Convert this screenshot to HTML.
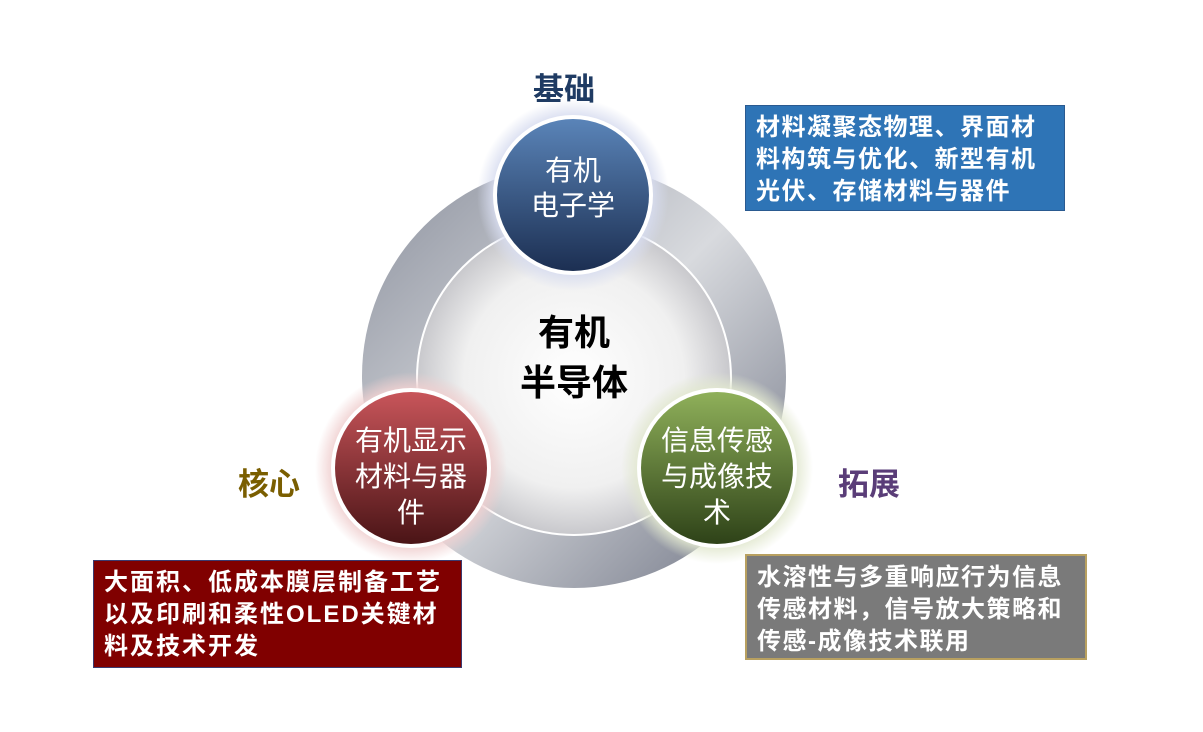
<!DOCTYPE html>
<html><head><meta charset="utf-8"><style>
body{margin:0;background:#fff;width:1203px;height:732px;overflow:hidden;position:relative;font-family:"Liberation Sans","Noto Sans CJK SC",sans-serif}
.box{position:absolute;color:#fff;font-weight:bold;font-size:24px;line-height:32px;padding:6px 0 0 10px;box-sizing:border-box;letter-spacing:1.5px;white-space:nowrap}
.lbl{position:absolute;font-size:31px;font-weight:bold}
</style></head><body>
<svg width="1203" height="732" style="position:absolute;left:0;top:0">
<defs>
<linearGradient id="ring" x1="0" y1="0" x2="1" y2="1">
<stop offset="0" stop-color="#8a8f9c"/><stop offset="0.5" stop-color="#d8dade"/><stop offset="1" stop-color="#6d7282"/></linearGradient>
<radialGradient id="inner" cx="0.5" cy="0.5" r="0.5">
<stop offset="0" stop-color="#ffffff"/><stop offset="0.7" stop-color="#f0f0f0"/><stop offset="1" stop-color="#c8c8cc"/></radialGradient>
<linearGradient id="gb" x1="0" y1="0" x2="0" y2="1"><stop offset="0" stop-color="#5a84b8"/><stop offset="1" stop-color="#1c2f52"/></linearGradient>
<linearGradient id="gr" x1="0" y1="0" x2="0" y2="1"><stop offset="0" stop-color="#c8555a"/><stop offset="1" stop-color="#4a1416"/></linearGradient>
<linearGradient id="gg" x1="0" y1="0" x2="0" y2="1"><stop offset="0" stop-color="#8fb05a"/><stop offset="1" stop-color="#2e4218"/></linearGradient>
<radialGradient id="hb"><stop offset="0.8" stop-color="#d8ddf0"/><stop offset="1" stop-color="#d8ddf0" stop-opacity="0"/></radialGradient>
<radialGradient id="hr"><stop offset="0.8" stop-color="#f0d0d0"/><stop offset="1" stop-color="#f0d0d0" stop-opacity="0"/></radialGradient>
<radialGradient id="hg"><stop offset="0.8" stop-color="#e2e8d0"/><stop offset="1" stop-color="#e2e8d0" stop-opacity="0"/></radialGradient>
</defs>
<circle cx="574" cy="376" r="212" fill="url(#ring)"/>
<circle cx="574" cy="378" r="157" fill="url(#inner)" stroke="#fff" stroke-width="2"/>
<circle cx="573" cy="195" r="96" fill="url(#hb)"/>
<circle cx="573" cy="195" r="80" fill="#fff"/>
<circle cx="573" cy="195" r="76" fill="url(#gb)"/>
<circle cx="411" cy="468" r="96" fill="url(#hr)"/>
<circle cx="411" cy="468" r="80" fill="#fff"/>
<circle cx="411" cy="468" r="76" fill="url(#gr)"/>
<circle cx="717" cy="468" r="96" fill="url(#hg)"/>
<circle cx="717" cy="468" r="80" fill="#fff"/>
<circle cx="717" cy="468" r="76" fill="url(#gg)"/>
<g font-family="Liberation Sans,Noto Sans CJK SC,sans-serif" fill="#fff" font-size="28" text-anchor="middle">
<text x="573" y="180">有机</text><text x="573" y="215">电子学</text>
<text x="411" y="450">有机显示</text><text x="411" y="486">材料与器</text><text x="411" y="522">件</text>
<text x="717" y="450">信息传感</text><text x="717" y="486">与成像技</text><text x="717" y="522">术</text>
</g>
<g font-family="Liberation Sans,Noto Sans CJK SC,sans-serif" fill="#000" font-size="36" font-weight="bold" text-anchor="middle">
<text x="574" y="345">有机</text><text x="574" y="395">半导体</text>
</g>
</svg>
<div class="lbl" style="left:533px;top:64px;color:#1f3b63">基础</div>
<div class="lbl" style="left:238px;top:459px;color:#7a5e00">核心</div>
<div class="lbl" style="left:838px;top:459px;color:#5a3d78">拓展</div>
<div class="box" style="left:745px;top:105px;width:320px;height:106px;background:#2e74b6;border:1px solid #2a5a90">材料凝聚态物理、界面材<br>料构筑与优化、新型有机<br>光伏、存储材料与器件</div>
<div class="box" style="left:93px;top:560px;width:369px;height:108px;background:#800000;border:1px solid #3b3b70;letter-spacing:2px">大面积、低成本膜层制备工艺<br>以及印刷和柔性OLED关键材<br>料及技术开发</div>
<div class="box" style="left:745px;top:554px;width:342px;height:106px;background:#7a7a7a;border:2px solid #b8a060">水溶性与多重响应行为信息<br>传感材料，信号放大策略和<br>传感-成像技术联用</div>
</body></html>
